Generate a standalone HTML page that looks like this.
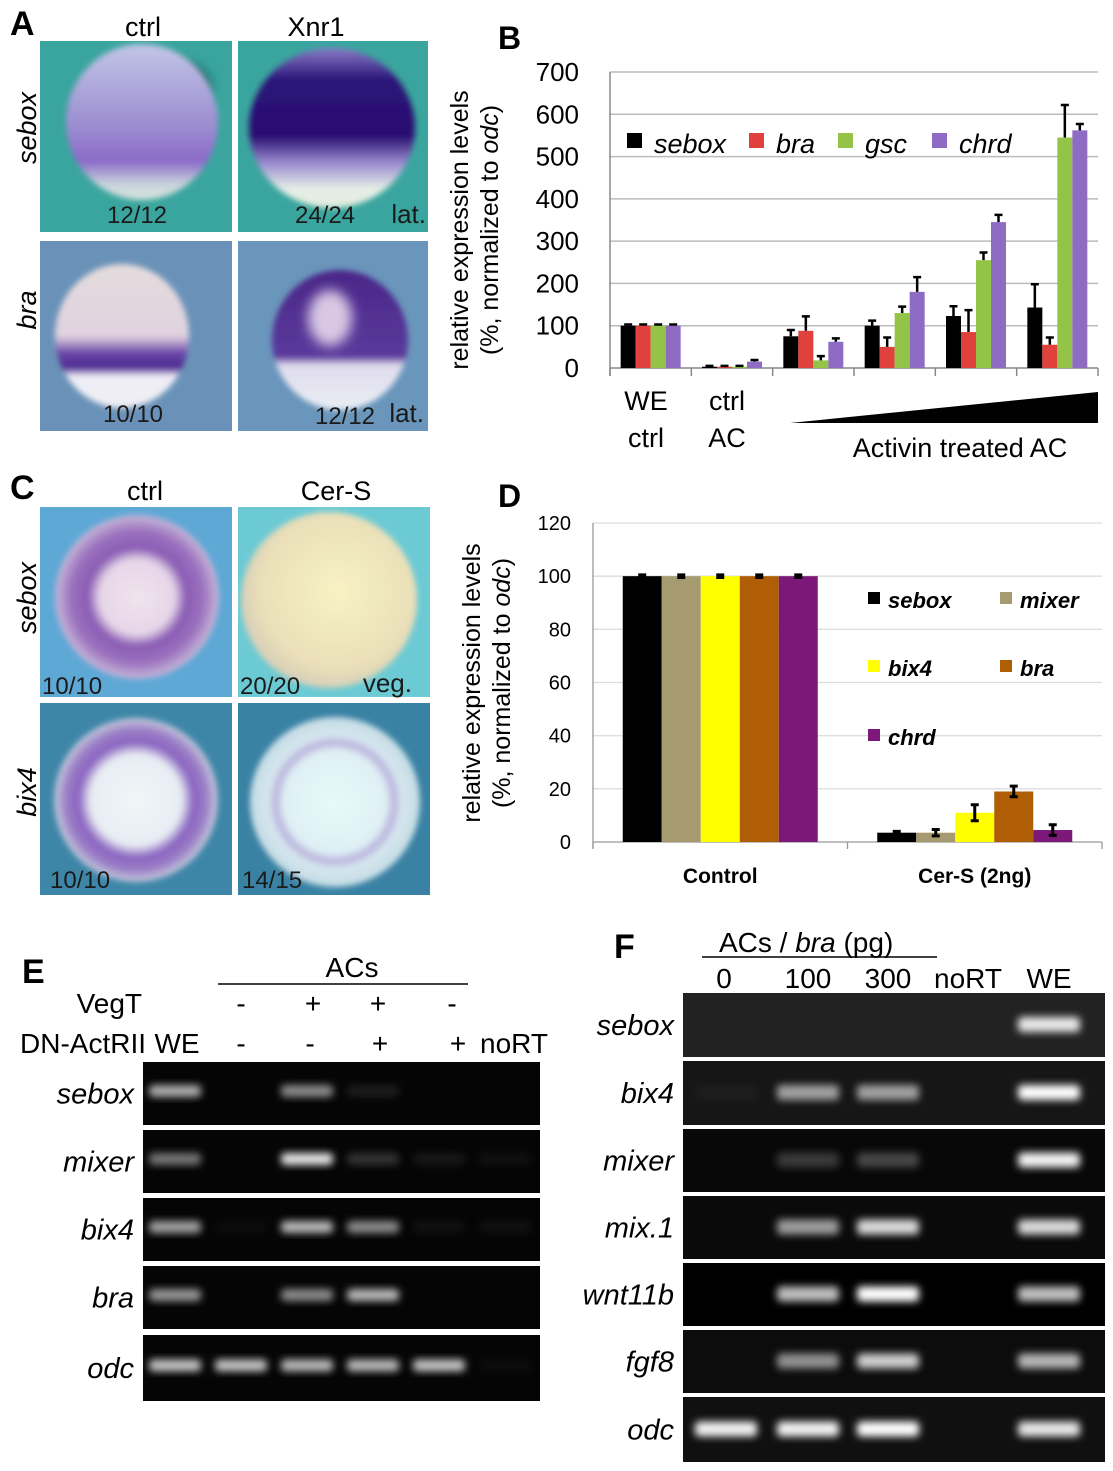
<!DOCTYPE html>
<html><head><meta charset="utf-8"><style>
html,body{margin:0;padding:0;background:#fff;}
svg{display:block;font-family:"Liberation Sans",Arial,sans-serif;}
</style></head><body>
<svg id="fig" width="1113" height="1471" viewBox="0 0 1113 1471" xmlns="http://www.w3.org/2000/svg">
<defs>
<filter id="blur3" x="-50%" y="-50%" width="200%" height="200%"><feGaussianBlur stdDeviation="3"/></filter>
<filter id="blur4" x="-50%" y="-50%" width="200%" height="200%"><feGaussianBlur stdDeviation="4"/></filter>
<filter id="blur6" x="-50%" y="-50%" width="200%" height="200%"><feGaussianBlur stdDeviation="6"/></filter>
<radialGradient id="ringC1" cx="0.5" cy="0.5" r="0.5"><stop offset="0" stop-color="#efe4ee"/><stop offset="0.45" stop-color="#e6d6e8"/><stop offset="0.6" stop-color="#8a5cb4"/><stop offset="0.8" stop-color="#9a70be"/><stop offset="1" stop-color="#c8b8d8"/></radialGradient>
<radialGradient id="ringC3" cx="0.5" cy="0.5" r="0.5"><stop offset="0" stop-color="#eef6f6"/><stop offset="0.55" stop-color="#e8eef4"/><stop offset="0.7" stop-color="#8a64c0"/><stop offset="0.85" stop-color="#9a7cc6"/><stop offset="1" stop-color="#c6ccdc"/></radialGradient>
<radialGradient id="ringC4" cx="0.5" cy="0.5" r="0.5"><stop offset="0" stop-color="#e6fafa"/><stop offset="0.6" stop-color="#dff0f4"/><stop offset="0.7" stop-color="#b8b0dc"/><stop offset="0.78" stop-color="#d6e6ee"/><stop offset="1" stop-color="#c4dce4"/></radialGradient>
<radialGradient id="cream" cx="0.55" cy="0.45" r="0.55"><stop offset="0" stop-color="#f8f2c4"/><stop offset="0.8" stop-color="#eadfb8"/><stop offset="1" stop-color="#d8d0b8"/></radialGradient>
<linearGradient id="a1" x1="0" y1="0" x2="0" y2="1"><stop offset="0" stop-color="#c2c6e6"/><stop offset="0.55" stop-color="#9a8ad0"/><stop offset="0.75" stop-color="#8a6ac8"/><stop offset="0.9" stop-color="#c8d4dc"/><stop offset="1" stop-color="#d8e4dc"/></linearGradient>
<linearGradient id="a2" x1="0" y1="0" x2="0" y2="1"><stop offset="0" stop-color="#8a7cc8"/><stop offset="0.2" stop-color="#2a1478"/><stop offset="0.55" stop-color="#2a0e70"/><stop offset="0.72" stop-color="#9a8cd0"/><stop offset="0.88" stop-color="#e6eee6"/><stop offset="1" stop-color="#e2ecde"/></linearGradient>
<linearGradient id="a3" x1="0" y1="0" x2="0" y2="1"><stop offset="0" stop-color="#e4dcdc"/><stop offset="0.5" stop-color="#e0d2e0"/><stop offset="0.62" stop-color="#6a46a8"/><stop offset="0.72" stop-color="#4a2890"/><stop offset="0.78" stop-color="#f0eef6"/><stop offset="1" stop-color="#eeeef4"/></linearGradient>
<linearGradient id="a4" x1="0" y1="0" x2="0" y2="1"><stop offset="0" stop-color="#4a2688"/><stop offset="0.62" stop-color="#5a3a9c"/><stop offset="0.68" stop-color="#e0dcee"/><stop offset="1" stop-color="#eaeef4"/></linearGradient>
</defs>

<!-- Panel A -->
<g>
<text x="10" y="35" font-size="34" font-weight="bold">A</text>
<text x="143" y="36" font-size="27" text-anchor="middle">ctrl</text>
<text x="316" y="36" font-size="27" text-anchor="middle">Xnr1</text>
<text transform="translate(36,128) rotate(-90)" font-size="27" font-style="italic" text-anchor="middle">sebox</text>
<text transform="translate(36,310) rotate(-90)" font-size="27" font-style="italic" text-anchor="middle">bra</text>
<g>
<rect x="40" y="41" width="192" height="191" fill="#3aa59e"/>
<ellipse cx="180" cy="85" rx="30" ry="22" fill="#14403e" filter="url(#blur6)" opacity="0.7"/>
<ellipse cx="142" cy="122" rx="76" ry="78" fill="url(#a1)" filter="url(#blur3)"/>
<text x="137" y="223" font-size="24" text-anchor="middle" fill="#1a1a1a">12/12</text>
</g>
<g>
<rect x="238" y="41" width="190" height="191" fill="#3aa59e"/>
<ellipse cx="332" cy="128" rx="83" ry="80" fill="url(#a2)" filter="url(#blur3)"/>
<text x="325" y="223" font-size="24" text-anchor="middle" fill="#1a1a1a">24/24</text>
<text x="426" y="223" font-size="26" text-anchor="end" fill="#1a1a1a">lat.</text>
</g>
<g>
<rect x="40" y="241" width="192" height="190" fill="#6a92b8"/>
<ellipse cx="122" cy="336" rx="67" ry="72" fill="url(#a3)" filter="url(#blur3)"/>
<text x="133" y="422" font-size="24" text-anchor="middle" fill="#1a1a1a">10/10</text>
</g>
<g>
<rect x="238" y="241" width="190" height="190" fill="#6a96bc"/>
<ellipse cx="340" cy="340" rx="68" ry="70" fill="url(#a4)" filter="url(#blur3)"/>
<ellipse cx="330" cy="318" rx="22" ry="28" fill="#d8c8e4" filter="url(#blur6)"/>
<text x="345" y="424" font-size="24" text-anchor="middle" fill="#1a1a1a">12/12</text>
<text x="424" y="422" font-size="26" text-anchor="end" fill="#1a1a1a">lat.</text>
</g>
</g>

<!-- Panel C -->
<g>
<text x="10" y="499" font-size="34" font-weight="bold">C</text>
<text x="145" y="500" font-size="27" text-anchor="middle">ctrl</text>
<text x="336" y="500" font-size="27" text-anchor="middle">Cer-S</text>
<text transform="translate(36,598) rotate(-90)" font-size="27" font-style="italic" text-anchor="middle">sebox</text>
<text transform="translate(36,792) rotate(-90)" font-size="27" font-style="italic" text-anchor="middle">bix4</text>
<g>
<rect x="40" y="507" width="192" height="190" fill="#5ea8d6"/>
<circle cx="137" cy="597" r="82" fill="url(#ringC1)" filter="url(#blur3)"/>
<text x="42" y="694" font-size="24" fill="#1a1a1a">10/10</text>
</g>
<g>
<rect x="238" y="507" width="192" height="190" fill="#6ccad4"/>
<circle cx="329" cy="600" r="88" fill="url(#cream)" filter="url(#blur3)"/>
<text x="240" y="694" font-size="24" fill="#1a1a1a">20/20</text>
<text x="412" y="692" font-size="26" text-anchor="end" fill="#1a1a1a">veg.</text>
</g>
<g>
<rect x="40" y="703" width="192" height="192" fill="#3e86a8"/>
<circle cx="136" cy="800" r="82" fill="url(#ringC3)" filter="url(#blur3)"/>
<text x="50" y="888" font-size="24" fill="#1a1a1a">10/10</text>
</g>
<g>
<rect x="238" y="703" width="192" height="192" fill="#3a82a4"/>
<circle cx="335" cy="802" r="85" fill="url(#ringC4)" filter="url(#blur3)"/>
<text x="242" y="888" font-size="24" fill="#1a1a1a">14/15</text>
</g>
</g>

<!-- Panel B -->
<g id="chartB">
<text x="498" y="49" font-size="32" font-weight="bold">B</text>
<text transform="translate(468,230) rotate(-90)" font-size="25" text-anchor="middle">relative expression levels</text>
<text transform="translate(498,230) rotate(-90)" font-size="25" text-anchor="middle">(%, normalized to <tspan font-style="italic">odc</tspan>)</text>
<text x="646" y="410" font-size="27" text-anchor="middle">WE</text>
<text x="646" y="447" font-size="27" text-anchor="middle">ctrl</text>
<text x="727" y="410" font-size="27" text-anchor="middle">ctrl</text>
<text x="727" y="447" font-size="27" text-anchor="middle">AC</text>
<polygon points="790,423 1098,392 1098,423" fill="#000"/>
<text x="960" y="457" font-size="27" text-anchor="middle">Activin treated AC</text>
</g>

<!-- Panel D -->
<g id="chartD">
<text x="498" y="507" font-size="32" font-weight="bold">D</text>
<text transform="translate(480,683) rotate(-90)" font-size="25" text-anchor="middle">relative expression levels</text>
<text transform="translate(510,683) rotate(-90)" font-size="25" text-anchor="middle">(%, normalized to <tspan font-style="italic">odc</tspan>)</text>
</g>

<!-- Panel E -->
<g id="gelE">
<text x="22" y="983" font-size="34" font-weight="bold">E</text>
<text x="352" y="977" font-size="28" text-anchor="middle">ACs</text>
<line x1="218" y1="984" x2="468" y2="984" stroke="#000" stroke-width="1.5"/>
<text x="142" y="1013" font-size="28" text-anchor="end">VegT</text>
<text x="146" y="1053" font-size="28" text-anchor="end">DN-ActRII</text>
</g>

<!-- Panel F -->
<g id="gelF">
<text x="614" y="958" font-size="34" font-weight="bold">F</text>
<text x="719" y="952" font-size="28">ACs /  <tspan font-style="italic">bra</tspan> (pg)</text>
<line x1="702" y1="957" x2="937" y2="957" stroke="#000" stroke-width="1.5"/>
</g>

<script>
const NS = "http://www.w3.org/2000/svg";
function mk(parent, tag, attrs, text) {
  const e = document.createElementNS(NS, tag);
  for (const k in attrs) e.setAttribute(k, attrs[k]);
  if (text !== undefined) e.textContent = text;
  parent.appendChild(e);
  return e;
}

// ===== Chart B data =====
const bCategories = ["WE ctrl", "ctrl AC", "Activin 1", "Activin 2", "Activin 3", "Activin 4"];
const bSeries = ["sebox", "bra", "gsc", "chrd"];
const bSebox = [100, 3, 75, 100, 123, 143];
const bBra = [100, 3, 88, 50, 85, 55];
const bGsc = [100, 3, 18, 130, 255, 545];
const bChrd = [100, 15, 62, 180, 345, 562];
const bSeboxErr = [3, 2, 15, 12, 23, 55];
const bBraErr = [3, 2, 34, 22, 52, 17];
const bGscErr = [3, 2, 10, 15, 18, 77];
const bChrdErr = [3, 4, 8, 35, 17, 15];
const bTicks = [0, 100, 200, 300, 400, 500, 600, 700];

// ===== Chart D data =====
const dCategories = ["Control", "Cer-S (2ng)"];
const dSeries = ["sebox", "mixer", "bix4", "bra", "chrd"];
const dControl = [100, 100, 100, 100, 100];
const dCerS = [3.5, 3.5, 11, 19, 4.5];
const dControlErr = [0.5, 0.5, 0.5, 0.5, 0.5];
const dCerSErr = [0.5, 1.2, 3, 2, 2];
const dTicks = [0, 20, 40, 60, 80, 100, 120];

// ===== Chart B =====
(function(){
  const g = document.getElementById("chartB");
  const x0 = 610, x1 = 1098, y0 = 368, yTop = 72, vmax = 700;
  const y = v => y0 - (v / vmax) * (y0 - yTop);
  const colors = ["#000000", "#e0413c", "#93c447", "#8e6cc4"];
  const vals = [bSebox, bBra, bGsc, bChrd];
  const errs = [bSeboxErr, bBraErr, bGscErr, bChrdErr];
  bTicks.forEach(t => {
    const gl = mk(g, "line", {x1: x0, x2: x1, y1: y(t), y2: y(t), stroke: t === 0 ? "#888" : "#bbb", "stroke-width": 1.5});
    
    
    const tl = mk(g, "text", {x: 579, y: y(t) + 9, "font-size": 26, "text-anchor": "end"}, t);
    
    
  });
  const ax = mk(g, "line", {x1: x0, x2: x0, y1: yTop, y2: y0 + 8, stroke: "#888", "stroke-width": 1.5});
  
  
  const gw = (x1 - x0) / bCategories.length;
  for (let i = 0; i <= bCategories.length; i++) {
    const tk = mk(g, "line", {x1: x0 + i * gw, x2: x0 + i * gw, y1: y0, y2: y0 + 8, stroke: "#888", "stroke-width": 1.5});
    
    
  }
  const bw = 15;
  bCategories.forEach((c, i) => {
    const gx = x0 + i * gw + (gw - 4 * bw) / 2;
    bSeries.forEach((s, j) => {
      const v = vals[j][i], e = errs[j][i];
      const bx = gx + j * bw;
      const r = mk(g, "rect", {x: bx, y: y(v), width: bw, height: y0 - y(v), fill: colors[j]});
      
      
      const cx = bx + bw / 2;
      const eb = mk(g, "path", {d: `M${cx},${y(v)}V${y(v + e)}M${cx - 4},${y(v + e)}H${cx + 4}`, stroke: "#000", "stroke-width": 2.5, fill: "none"});
      
      
    });
  });
  const lx = [627, 749, 838, 932];
  bSeries.forEach((s, j) => {
    const sq = mk(g, "rect", {x: lx[j], y: 133, width: 15, height: 15, fill: colors[j]});
    
    
    const t = mk(g, "text", {x: lx[j] + 27, y: 153, "font-size": 27, "font-style": "italic"}, s);
    
    
  });
})();

// ===== Chart D =====
(function(){
  const g = document.getElementById("chartD");
  const x0 = 593, x1 = 1102, y0 = 842, yTop = 523, vmax = 120;
  const y = v => y0 - (v / vmax) * (y0 - yTop);
  const colors = ["#000000", "#a59a70", "#ffff00", "#b05e06", "#7b1878"];
  dTicks.forEach(t => {
    const gl = mk(g, "line", {x1: x0, x2: x1, y1: y(t), y2: y(t), stroke: t === 0 ? "#999" : "#ddd", "stroke-width": 1.3});
    
    
    const tl = mk(g, "text", {x: 571, y: y(t) + 7, "font-size": 20, "text-anchor": "end"}, t);
    
    
  });
  const ax = mk(g, "line", {x1: x0, x2: x0, y1: yTop, y2: y0 + 6, stroke: "#999", "stroke-width": 1.3});
  
  
  const gw = (x1 - x0) / dCategories.length;
  for (let i = 0; i <= dCategories.length; i++) {
    const tk = mk(g, "line", {x1: x0 + i * gw, x2: x0 + i * gw, y1: y0, y2: y0 + 7, stroke: "#999", "stroke-width": 1.3});
    
    
  }
  const vals = [dControl, dCerS], errs = [dControlErr, dCerSErr];
  const bw = 39;
  dCategories.forEach((c, i) => {
    const gx = x0 + i * gw + (gw - 5 * bw) / 2;
    dSeries.forEach((s, j) => {
      const v = vals[i][j], e = errs[i][j];
      const bx = gx + j * bw;
      const r = mk(g, "rect", {x: bx, y: y(v), width: bw, height: y0 - y(v), fill: colors[j]});
      
      
      const cx = bx + bw / 2;
      const eb = mk(g, "path", {d: `M${cx},${y(v - e)}V${y(v + e)}M${cx - 4},${y(v + e)}H${cx + 4}M${cx - 4},${y(v - e)}H${cx + 4}`, stroke: "#000", "stroke-width": 3, fill: "none"});
      
      
    });
    const cl = mk(g, "text", {x: x0 + i * gw + gw / 2, y: 883, "font-size": 21, "font-weight": "bold", "text-anchor": "middle"}, c);
    
    
  });
  const lpos = [[868, 600], [1000, 600], [868, 668], [1000, 668], [868, 737]];
  dSeries.forEach((s, j) => {
    const sq = mk(g, "rect", {x: lpos[j][0], y: lpos[j][1] - 8, width: 12, height: 12, fill: colors[j]});
    
    
    const t = mk(g, "text", {x: lpos[j][0] + 20, y: lpos[j][1] + 8, "font-size": 22, "font-style": "italic", "font-weight": "bold"}, s);
    
    
  });
})();

// ===== Gel E =====
const eGenes = ["sebox", "mixer", "bix4", "bra", "odc"];
const eIntensity = [
  [0.75, 0, 0.6, 0.1, 0, 0],
  [0.5, 0, 1, 0.2, 0.08, 0.05],
  [0.7, 0.03, 0.8, 0.6, 0.05, 0.05],
  [0.65, 0, 0.6, 0.8, 0, 0],
  [0.85, 0.85, 0.8, 0.8, 0.85, 0.03]
];
(function(){
  const g = document.getElementById("gelE");
  const lanes = [175, 241, 307, 373, 439, 505];
  const vegt = ["", "-", "+", "+", "-", ""];
  const vx = [0, 241, 313, 378, 452, 0];
  vegt.forEach((s, i) => {
    if (!s) return;
    const t = mk(g, "text", {x: vx[i], y: 1013, "font-size": 28, "text-anchor": "middle"}, s);
    
    
  });
  const dn = ["WE", "-", "-", "+", "+", "noRT"];
  const dnx = [177, 241, 310, 380, 458, 514];
  dn.forEach((s, i) => {
    const t = mk(g, "text", {x: dnx[i], y: 1053, "font-size": 28, "text-anchor": "middle"}, s);
    
    
  });
  const rows = [[1062, 1125], [1130, 1193], [1198, 1261], [1266, 1329], [1335, 1401]];
  eGenes.forEach((gene, r) => {
    const [ya, yb] = rows[r];
    const bg = mk(g, "rect", {x: 143, y: ya, width: 397, height: yb - ya, fill: "#050505"});
    
    
    const lab = mk(g, "text", {x: 134, y: (ya + yb) / 2 + 10, "font-size": 29, "font-style": "italic", "text-anchor": "end"}, gene);
    
    
    lanes.forEach((lx, i) => {
      const v = eIntensity[r][i];
      if (v <= 0) return;
      const b = mk(g, "rect", {x: lx - 26, y: ya + (yb - ya) * 0.46 - 6, width: 52, height: 12, rx: 4, fill: "#fff", opacity: v * 0.9, filter: "url(#blur4)"});
      
      
    });
  });
})();

// ===== Gel F =====
const fGenes = ["sebox", "bix4", "mixer", "mix.1", "wnt11b", "fgf8", "odc"];
const fIntensity = [
  [0, 0, 0, 0, 0.9],
  [0.03, 0.6, 0.6, 0, 1],
  [0, 0.2, 0.25, 0, 0.95],
  [0, 0.6, 0.85, 0, 0.85],
  [0, 0.75, 1, 0, 0.75],
  [0, 0.55, 0.8, 0, 0.7],
  [0.95, 0.95, 1, 0, 0.9]
];
(function(){
  const g = document.getElementById("gelF");
  const lanes = [726, 808, 888, 968, 1049];
  const lbl = ["0", "100", "300", "noRT", "WE"];
  lbl.forEach((s, i) => {
    const t = mk(g, "text", {x: lanes[i] - (i === 0 ? 2 : 0), y: 988, "font-size": 28, "text-anchor": "middle"}, s);
    
    
  });
  const rows = [[993, 1057], [1061, 1125], [1129, 1192], [1196, 1259], [1263, 1326], [1330, 1393], [1397, 1462]];
  const bgc = ["#222", "#161616", "#080808", "#0a0a0a", "#000", "#0c0c0c", "#101010"];
  fGenes.forEach((gene, r) => {
    const [ya, yb] = rows[r];
    const bg = mk(g, "rect", {x: 683, y: ya, width: 422, height: yb - ya, fill: bgc[r]});
    
    
    const lab = mk(g, "text", {x: 674, y: (ya + yb) / 2 + 10, "font-size": 29, "font-style": "italic", "text-anchor": "end"}, gene);
    
    
    lanes.forEach((lx, i) => {
      const v = fIntensity[r][i];
      if (v <= 0) return;
      const b = mk(g, "rect", {x: lx - 31, y: ya + (yb - ya) * 0.5 - 8, width: 62, height: 15, rx: 4, fill: "#fff", opacity: v, filter: "url(#blur4)"});
      
      
    });
  });
})();
</script>
</svg>
</body></html>
